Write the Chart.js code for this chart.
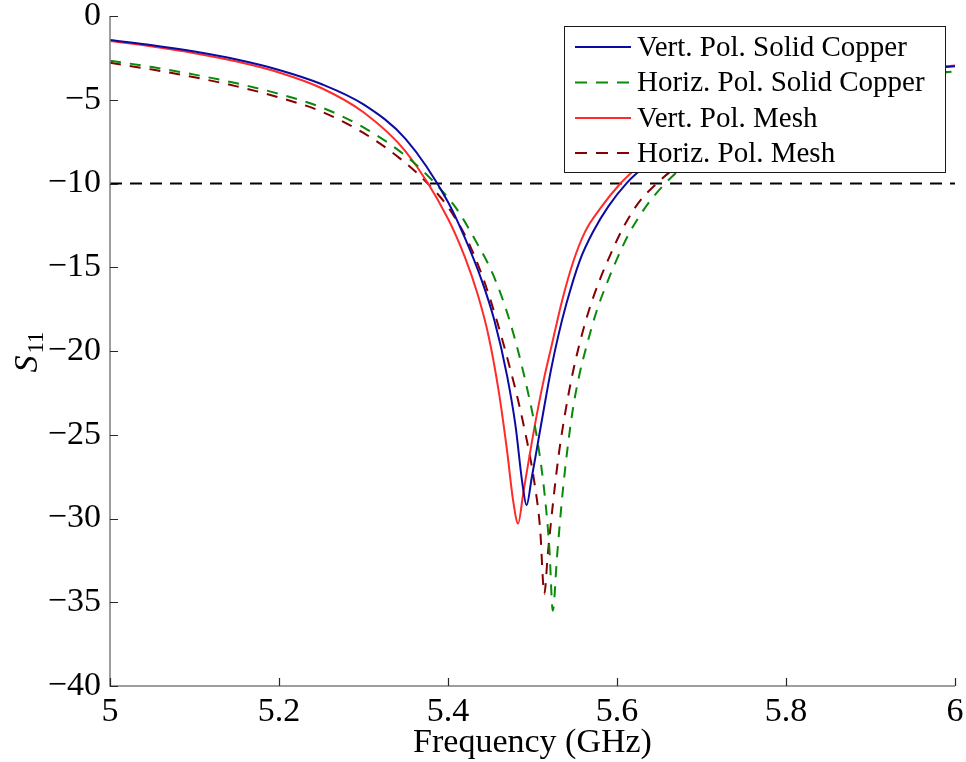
<!DOCTYPE html>
<html>
<head>
<meta charset="utf-8">
<script src="https://cdn.jsdelivr.net/npm/chart.js@4.4.1/dist/chart.umd.min.js"></script>
<style>
  html, body { margin: 0; padding: 0; background: #ffffff; }
  canvas { display: block; }
</style>
</head>
<body>
<canvas id="c" width="966" height="762"></canvas>
<script>
// Axis ticks
const xTicks = [5, 5.2, 5.4, 5.6, 5.8, 6];
const yTicks = [0, -5, -10, -15, -20, -25, -30, -35, -40];
const thresholdDb = -10;

// Vertical polarisation, solid copper
const freqVertCopper = [5.00, 5.05, 5.10, 5.15, 5.20, 5.25, 5.30, 5.35, 5.40, 5.42, 5.44, 5.455, 5.47, 5.48, 5.488, 5.493, 5.499, 5.506, 5.514, 5.522, 5.53, 5.54, 5.556, 5.572, 5.59, 5.612, 5.63, 5.66, 5.70, 5.75, 5.80, 5.85, 5.90, 5.95, 6.00];
const s11VertCopper = [-1.43, -1.74, -2.12, -2.60, -3.22, -4.06, -5.28, -7.35, -11.1, -13.25, -15.8, -18.2, -21.5, -24.5, -27.9, -29.2, -27.6, -25.6, -23.3, -21.1, -19.2, -17.2, -14.6, -12.85, -11.35, -9.95, -9.1, -7.9, -6.6, -5.4, -4.55, -3.95, -3.5, -3.2, -3.0];

// Horizontal polarisation, solid copper
const freqHorizCopper = [5.00, 5.05, 5.10, 5.15, 5.20, 5.25, 5.30, 5.35, 5.385, 5.41, 5.433, 5.453, 5.473, 5.493, 5.506, 5.514, 5.52, 5.524, 5.529, 5.535, 5.541, 5.548, 5.556, 5.564, 5.576, 5.588, 5.60, 5.613, 5.626, 5.639, 5.657, 5.68, 5.72, 5.76, 5.80, 5.85, 5.90, 5.95, 6.00];
const s11HorizCopper = [-2.67, -3.05, -3.5, -4.02, -4.65, -5.45, -6.65, -8.35, -10.0, -11.5, -13.45, -15.4, -18.2, -22.1, -25.4, -28.4, -31.8, -35.5, -32.3, -28.8, -26.0, -23.4, -21.3, -19.7, -17.6, -15.96, -14.5, -13.1, -12.0, -11.05, -10.0, -8.9, -7.3, -6.1, -5.25, -4.5, -3.95, -3.57, -3.3];

// Vertical polarisation, mesh
const freqVertMesh = [5.00, 5.05, 5.10, 5.15, 5.20, 5.25, 5.30, 5.35, 5.40, 5.42, 5.435, 5.448, 5.46, 5.47, 5.477, 5.483, 5.489, 5.496, 5.504, 5.513, 5.523, 5.535, 5.548, 5.562, 5.58, 5.604, 5.625, 5.65, 5.70, 5.75, 5.80, 5.85, 5.90, 5.95, 6.00];
const s11VertMesh = [-1.49, -1.82, -2.22, -2.72, -3.37, -4.3, -5.75, -8.1, -12.1, -14.4, -16.6, -19.1, -22.4, -26.0, -28.9, -30.3, -28.5, -26.4, -24.1, -21.8, -19.6, -17.0, -14.7, -12.9, -11.5, -10.0, -9.0, -8.0, -6.5, -5.35, -4.5, -3.9, -3.45, -3.15, -2.95];

// Horizontal polarisation, mesh
const freqHorizMesh = [5.00, 5.05, 5.10, 5.15, 5.20, 5.25, 5.30, 5.343, 5.376, 5.40, 5.425, 5.446, 5.469, 5.489, 5.503, 5.509, 5.514, 5.518, 5.524, 5.531, 5.538, 5.546, 5.555, 5.566, 5.578, 5.59, 5.6036, 5.615, 5.627, 5.647, 5.67, 5.71, 5.75, 5.80, 5.85, 5.90, 5.95, 6.00];
const s11HorizMesh = [-2.79, -3.2, -3.66, -4.2, -4.86, -5.7, -6.98, -8.5, -10.0, -11.4, -13.6, -16.3, -20.2, -24.3, -28.1, -30.6, -34.5, -32.2, -29.2, -26.2, -23.9, -21.7, -19.7, -17.7, -15.96, -14.5, -13.0, -11.95, -11.05, -10.0, -9.0, -7.5, -6.3, -5.25, -4.5, -3.95, -3.57, -3.3];

const seriesNames = [
  'Vert. Pol. Solid Copper',
  'Horiz. Pol. Solid Copper',
  'Vert. Pol. Mesh',
  'Horiz. Pol. Mesh'
];

const SERIF = '"Liberation Serif", "Times New Roman", serif';
const COLORS = ['#0b0ba3', '#0a8a0a', '#ff2b2b', '#850000'];
const DASH = [11, 9];

const toPoints = (xs, ys) => xs.map((x, i) => ({ x: x, y: ys[i] }));

const curveStyles = [
  { color: COLORS[0], dash: [] },
  { color: COLORS[1], dash: DASH },
  { color: COLORS[2], dash: [] },
  { color: COLORS[3], dash: DASH }
];

const curves = [
  toPoints(freqVertCopper, s11VertCopper),
  toPoints(freqHorizCopper, s11HorizCopper),
  toPoints(freqVertMesh, s11VertMesh),
  toPoints(freqHorizMesh, s11HorizMesh)
];

const datasets = curves.map((pts, i) => ({
  label: seriesNames[i],
  data: pts,
  borderColor: curveStyles[i].color,
  borderDash: curveStyles[i].dash,
  borderWidth: 2,
  pointRadius: 0,
  cubicInterpolationMode: 'monotone',
  fill: false
}));

// -10 dB reference line across the full band
datasets.push({
  label: 'threshold',
  data: [{ x: xTicks[0], y: thresholdDb }, { x: xTicks[xTicks.length - 1], y: thresholdDb }],
  borderColor: '#000000',
  borderDash: [12, 8],
  borderWidth: 2,
  pointRadius: 0,
  fill: false
});

// Axis lines, inward ticks, axis titles and boxed legend
const decorations = {
  id: 'decorations',
  afterDatasetsDraw(chart) {
    const ctx = chart.ctx;
    const area = chart.chartArea;
    const xs = chart.scales.x, ys = chart.scales.y;

    ctx.save();
    // axis lines
    ctx.strokeStyle = '#7f7f7f';
    ctx.lineWidth = 1.5;
    ctx.setLineDash([]);
    ctx.beginPath();
    ctx.moveTo(area.left, area.top);
    ctx.lineTo(area.left, area.bottom);
    ctx.lineTo(area.right, area.bottom);
    ctx.stroke();

    // inward ticks
    ctx.strokeStyle = '#262626';
    ctx.lineWidth = 1.2;
    ctx.beginPath();
    yTicks.forEach(v => {
      const p = Math.round(ys.getPixelForValue(v)) + 0.5;
      ctx.moveTo(area.left, p);
      ctx.lineTo(area.left + 8, p);
    });
    xTicks.forEach(v => {
      const p = Math.round(xs.getPixelForValue(v)) + 0.5;
      ctx.moveTo(p, area.bottom);
      ctx.lineTo(p, area.bottom - 8);
    });
    ctx.stroke();

    // x axis title
    ctx.fillStyle = '#000000';
    ctx.font = '34px ' + SERIF;
    ctx.textAlign = 'center';
    ctx.textBaseline = 'alphabetic';
    ctx.fillText('Frequency (GHz)', (area.left + area.right) / 2, 752);

    // y axis title: italic S with subscript 11
    ctx.save();
    ctx.translate(0, 352);
    ctx.rotate(-Math.PI / 2);
    ctx.textAlign = 'left';
    const fontMain = 'italic 34px ' + SERIF;
    const fontSub = '23px ' + SERIF;
    ctx.font = fontMain;
    const wS = ctx.measureText('S').width;
    ctx.font = fontSub;
    const w11 = ctx.measureText('11').width;
    const x0 = -(wS + w11 + 2) / 2;
    ctx.font = fontMain;
    ctx.fillText('S', x0, 37);
    ctx.font = fontSub;
    ctx.fillText('11', x0 + wS + 2, 43);
    ctx.restore();

    // legend box
    const box = { left: 564.5, top: 26.5, right: 945.5, bottom: 172.5 };
    ctx.fillStyle = '#ffffff';
    ctx.fillRect(box.left, box.top, box.right - box.left, box.bottom - box.top);
    ctx.strokeStyle = '#1a1a1a';
    ctx.lineWidth = 1;
    ctx.strokeRect(box.left, box.top, box.right - box.left, box.bottom - box.top);

    const rowY = [47, 82.5, 118, 153];
    ctx.font = '29px ' + SERIF;
    ctx.textAlign = 'left';
    ctx.textBaseline = 'middle';
    seriesNames.forEach((name, i) => {
      ctx.strokeStyle = curveStyles[i].color;
      ctx.lineWidth = 2;
      ctx.setLineDash(curveStyles[i].dash.length ? [12, 9] : []);
      ctx.beginPath();
      ctx.moveTo(575, rowY[i]);
      ctx.lineTo(631, rowY[i]);
      ctx.stroke();
      ctx.setLineDash([]);
      ctx.fillStyle = '#000000';
      ctx.fillText(name, 637, rowY[i] + 1);
    });
    ctx.restore();
  }
};

const minusSign = v => String(v).replace('-', '\u2212');

new Chart(document.getElementById('c'), {
  type: 'line',
  data: { datasets: datasets },
  options: {
    responsive: false,
    devicePixelRatio: 1,
    animation: false,
    layout: { padding: { left: 0, right: 11, top: 16, bottom: 0 } },
    plugins: {
      legend: { display: false },
      tooltip: { enabled: false }
    },
    scales: {
      x: {
        type: 'linear',
        min: xTicks[0],
        max: xTicks[xTicks.length - 1],
        afterBuildTicks: s => { s.ticks = xTicks.map(v => ({ value: v })); },
        afterFit: s => { s.height = 76; s.paddingLeft = 0; s.paddingRight = 0; },
        grid: { display: false, drawTicks: false },
        border: { display: false },
        ticks: {
          padding: 9,
          color: '#000000',
          maxRotation: 0,
          font: { family: SERIF, size: 34, lineHeight: 1 },
          callback: v => String(v)
        }
      },
      y: {
        type: 'linear',
        min: yTicks[yTicks.length - 1],
        max: yTicks[0],
        afterBuildTicks: s => { s.ticks = yTicks.slice().reverse().map(v => ({ value: v })); },
        afterFit: s => { s.width = 110; s.paddingTop = 0; s.paddingBottom = 0; },
        grid: { display: false, drawTicks: false },
        border: { display: false },
        ticks: {
          padding: 9,
          color: '#000000',
          font: { family: SERIF, size: 34, lineHeight: 1 },
          callback: v => minusSign(v)
        }
      }
    }
  },
  plugins: [decorations]
});
</script>
</body>
</html>
